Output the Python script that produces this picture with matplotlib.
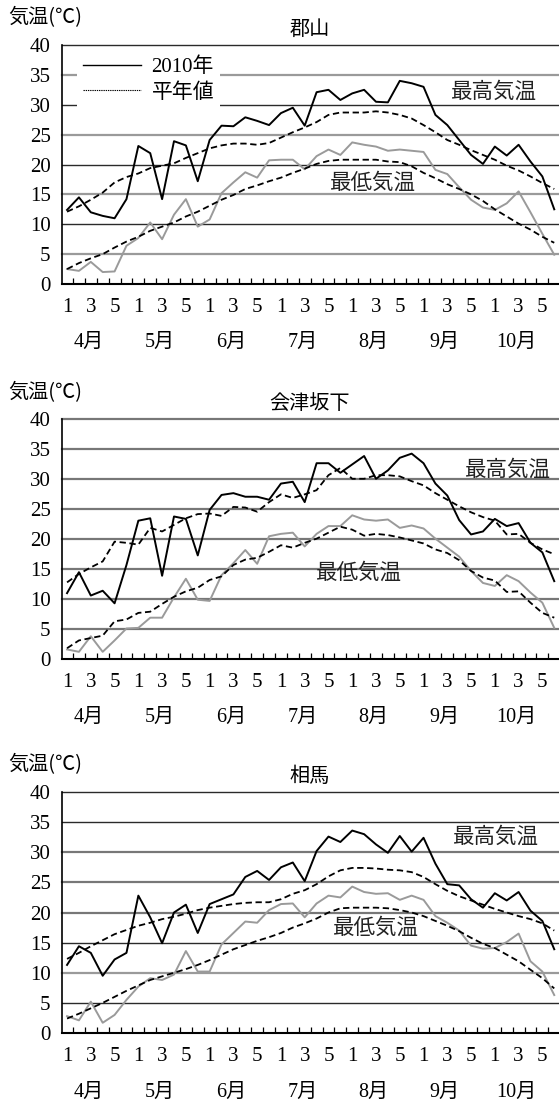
import numpy as np
import matplotlib
matplotlib.use("Agg")
import matplotlib.pyplot as plt
from matplotlib.lines import Line2D
from matplotlib.transforms import blended_transform_factory

plt.rcParams['font.family'] = ['Liberation Serif', 'Noto Sans CJK JP']

# 半旬ごと (4月1半旬 ～ 10月6半旬) の気温
months = ['4月', '5月', '6月', '7月', '8月', '9月', '10月']
pentad_labels = ['1', '', '3', '', '5', '']
yticks = [0, 5, 10, 15, 20, 25, 30, 35, 40]

koriyama_max_2010 = [12.4, 14.5, 12.0, 11.4, 11.0, 14.2, 23.1, 21.9, 14.2, 23.9, 23.2, 17.2,
                     24.1, 26.5, 26.4, 27.9, 27.3, 26.6, 28.6, 29.5, 26.5, 32.1, 32.5, 30.8,
                     31.9, 32.5, 30.5, 30.4, 34.0, 33.6, 33.0, 28.3, 26.6, 24.1, 21.6, 20.1,
                     23.0, 21.5, 23.3, 20.5, 18.0, 12.5]
koriyama_max_normal = [12.1, 13.0, 14.1, 15.3, 17.0, 17.9, 18.5, 19.4, 19.8, 20.2, 21.1, 21.9,
                       22.7, 23.2, 23.5, 23.5, 23.3, 23.6, 24.5, 25.4, 26.2, 27.1, 28.3, 28.7,
                       28.7, 28.7, 28.9, 28.7, 28.3, 27.7, 26.6, 25.4, 24.1, 23.3, 22.4, 21.6,
                       20.8, 19.8, 19.0, 18.0, 16.9, 15.9]
koriyama_min_2010 = [2.5, 2.2, 3.7, 2.0, 2.1, 6.4, 7.7, 10.3, 7.5, 11.6, 14.2, 9.6,
                     10.8, 15.2, 17.0, 18.7, 17.8, 20.7, 20.8, 20.8, 19.2, 21.4, 22.5, 21.6,
                     23.7, 23.3, 23.0, 22.3, 22.5, 22.3, 22.1, 19.1, 18.4, 16.2, 14.1, 12.8,
                     12.4, 13.5, 15.5, 12.0, 8.4, 4.9]
koriyama_min_normal = [2.5, 3.5, 4.3, 5.0, 6.1, 7.1, 7.9, 8.9, 9.6, 10.3, 11.3, 12.1,
                       13.1, 14.1, 14.9, 15.9, 16.5, 17.2, 17.8, 18.6, 19.3, 20.1, 20.6, 20.8,
                       20.8, 20.8, 20.8, 20.5, 20.4, 19.7, 18.6, 17.7, 16.7, 15.9, 15.0, 13.9,
                       12.5, 11.3, 10.1, 9.1, 7.9, 6.9]

aizu_max_2010 = [11.0, 14.5, 10.6, 11.4, 9.3, 15.7, 23.1, 23.5, 13.9, 23.8, 23.4, 17.3,
                 24.9, 27.4, 27.7, 27.1, 27.1, 26.6, 29.3, 29.6, 26.2, 32.7, 32.7, 31.1,
                 32.5, 33.9, 30.1, 31.5, 33.6, 34.3, 32.7, 29.3, 27.3, 23.2, 20.8, 21.3,
                 23.4, 22.2, 22.7, 19.4, 17.8, 13.0]
aizu_max_normal = [12.8, 14.2, 15.3, 16.3, 19.6, 19.4, 19.1, 21.9, 21.3, 22.4, 23.5, 24.2,
                   24.3, 23.9, 25.4, 25.3, 24.6, 26.2, 27.5, 26.9, 27.5, 28.2, 30.7, 31.9,
                   30.1, 30.1, 30.7, 30.7, 30.5, 29.7, 29.0, 27.7, 26.6, 25.5, 24.5, 23.7,
                   23.1, 20.8, 20.9, 19.4, 18.3, 17.5]
aizu_min_2010 = [1.6, 1.2, 3.8, 1.2, 3.1, 5.1, 5.2, 6.9, 6.9, 10.3, 13.4, 9.9,
                 9.7, 14.0, 16.0, 18.2, 15.9, 20.5, 20.9, 21.1, 18.8, 20.9, 22.2, 22.2,
                 24.0, 23.3, 23.1, 23.3, 21.9, 22.3, 21.8, 20.1, 18.6, 17.1, 14.7, 12.7,
                 12.2, 14.0, 13.0, 11.1, 9.4, 5.2]
aizu_min_normal = [1.8, 3.1, 3.5, 3.9, 6.3, 6.6, 7.7, 7.9, 9.2, 10.4, 11.3, 11.9,
                   13.2, 13.8, 15.7, 16.6, 16.9, 17.9, 19.0, 18.6, 19.4, 20.1, 21.1, 22.1,
                   21.6, 20.6, 20.9, 20.7, 20.3, 19.8, 19.3, 18.3, 17.7, 16.5, 14.7, 13.6,
                   13.1, 11.2, 11.3, 9.4, 7.7, 6.9]

soma_max_2010 = [11.3, 14.4, 13.3, 9.5, 12.2, 13.3, 22.8, 19.2, 14.9, 20.0, 21.3, 16.6,
                 21.4, 22.2, 23.0, 25.9, 26.9, 25.4, 27.5, 28.3, 25.2, 30.2, 32.6, 31.7,
                 33.6, 33.0, 31.3, 29.9, 32.7, 30.1, 32.4, 28.1, 24.7, 24.5, 22.2, 20.8,
                 23.2, 22.0, 23.4, 20.3, 18.6, 13.9]
soma_max_normal = [12.3, 13.3, 14.4, 15.4, 16.4, 17.1, 17.8, 18.3, 18.9, 19.3, 19.8, 20.4,
                   20.8, 21.1, 21.4, 21.6, 21.7, 21.7, 22.2, 23.1, 23.7, 24.7, 26.0, 27.0,
                   27.4, 27.4, 27.3, 27.1, 27.0, 26.7, 25.9, 24.7, 23.6, 22.7, 22.0, 21.3,
                   20.6, 20.0, 19.4, 18.9, 18.2, 17.0]
soma_min_2010 = [2.8, 2.1, 5.2, 1.7, 3.0, 5.5, 7.7, 9.1, 8.8, 9.7, 13.6, 10.2,
                 10.2, 14.7, 16.6, 18.5, 18.3, 20.4, 21.4, 21.5, 19.2, 21.5, 22.8, 22.5,
                 24.3, 23.4, 23.1, 23.2, 22.1, 22.8, 22.1, 19.4, 18.3, 17.0, 14.5, 14.0,
                 14.1, 15.1, 16.5, 11.9, 10.2, 6.3]
soma_min_normal = [2.4, 3.2, 4.1, 5.0, 6.0, 7.0, 7.9, 8.8, 9.4, 10.0, 10.6, 11.3,
                   12.1, 13.0, 13.9, 14.6, 15.3, 15.9, 16.6, 17.5, 18.2, 19.0, 20.0, 20.7,
                   20.8, 20.8, 20.8, 20.7, 20.4, 20.0, 19.4, 18.6, 17.8, 16.9, 15.8, 14.8,
                   14.1, 13.0, 11.9, 10.5, 9.1, 7.4]

DARK = '#2a2a2a'
LIGHT = '#9a9a9a'
MID = '#777777'


def draw_panel(ax, max_2010, max_normal, min_2010, min_normal, grid_colors,
               hi_pos, lo_pos):
    n = len(max_2010)
    x = np.arange(n)

    # 横の目盛線 (5～40℃)
    for v, c in zip(yticks[1:], grid_colors):
        lw = 1.0 if c == DARK else 1.6
        ax.axhline(v, color=c, lw=lw, zorder=1, clip_on=False)

    ax.plot(x, min_2010, color=LIGHT, lw=1.4, zorder=3)
    ax.plot(x, max_2010, color='black', lw=1.4, zorder=4)
    ax.plot(x, max_normal, color='black', lw=1.3, ls=(0, (3.5, 2)), zorder=4)
    ax.plot(x, min_normal, color='black', lw=1.3, ls=(0, (3.5, 2)), zorder=4)

    ax.text(hi_pos[0], hi_pos[1], '最高気温', ha='center', va='center',
            fontsize=15.5, color='#222222', zorder=5)
    ax.text(lo_pos[0], lo_pos[1], '最低気温', ha='center', va='center',
            fontsize=15.5, color='#222222', zorder=5)

    ax.set_xlim(-0.45, 41.4)
    ax.set_ylim(0, 40)
    ax.set_yticks(yticks)
    ax.tick_params(axis='y', length=0, pad=8, labelsize=15)

    ax.set_xticks(x[::2])
    ax.set_xticklabels(pentad_labels[::2] * (n // 6))
    ax.set_xticks(np.arange(n - 1) + 0.5, minor=True)
    ax.tick_params(axis='x', which='major', length=0, pad=10, labelsize=15)
    ax.tick_params(axis='x', which='minor', direction='in', length=4,
                   width=0.9, color='black')

    trans = blended_transform_factory(ax.transData, ax.transAxes)
    for m, name in enumerate(months):
        ax.text(1.8 + 6 * m, -0.245, name, transform=trans, ha='center',
                va='center', fontsize=14.5)

    for side in ['top', 'right']:
        ax.spines[side].set_visible(False)
    ax.spines['left'].set_linewidth(1.2)
    ax.spines['bottom'].set_linewidth(1.5)


W, H = 559, 1104
fig = plt.figure(figsize=(W / 100, H / 100), dpi=100)

left = 61.7 / W
width = 1 - left
panels = [
    ('郡山', 45, 284, koriyama_max_2010, koriyama_max_normal, koriyama_min_2010,
     koriyama_min_normal, [LIGHT, DARK, LIGHT, DARK, LIGHT, DARK, LIGHT, DARK],
     (35.9, 32.0), (25.7, 16.9)),
    ('会津坂下', 419.5, 659, aizu_max_2010, aizu_max_normal, aizu_min_2010,
     aizu_min_normal, [MID, MID, MID, MID, MID, MID, MID, MID],
     (37.1, 31.5), (24.6, 14.3)),
    ('相馬', 792, 1033, soma_max_2010, soma_max_normal, soma_min_2010,
     soma_min_normal, [DARK, LIGHT, DARK, MID, MID, MID, DARK, DARK],
     (36.1, 32.4), (26.0, 17.3)),
]

for k, (title, top, bottom, mx, mxn, mn, mnn, gc, hi, lo) in enumerate(panels):
    ax = fig.add_axes([left, 1 - bottom / H, width, (bottom - top) / H])
    draw_panel(ax, mx, mxn, mn, mnn, gc, hi, lo)
    fig.text(310 / W, 1 - (top - 15) / H, title, ha='center', va='center',
             fontsize=14.5)
    fig.text(8 / W, 1 - (top - 27) / H, '気温(℃)', ha='left', va='center',
             fontsize=14.5, family=['Noto Sans CJK JP'])
    if k == 0:
        handles = [Line2D([], [], color='black', lw=1.0),
                   Line2D([], [], color='black', lw=0.8, ls=(0, (1.2, 0.8)))]
        leg = ax.legend(handles, ['2010年', '平年値'], loc='upper left',
                        bbox_to_anchor=(0.03, 0.975), fontsize=15,
                        frameon=True, facecolor='white', edgecolor='none',
                        framealpha=1, fancybox=False, handlelength=2.8,
                        handletextpad=0.5, labelspacing=0.3, borderpad=0.3,
                        borderaxespad=0)
        leg.set_zorder(6)

fig.savefig('out.png', dpi=100)
